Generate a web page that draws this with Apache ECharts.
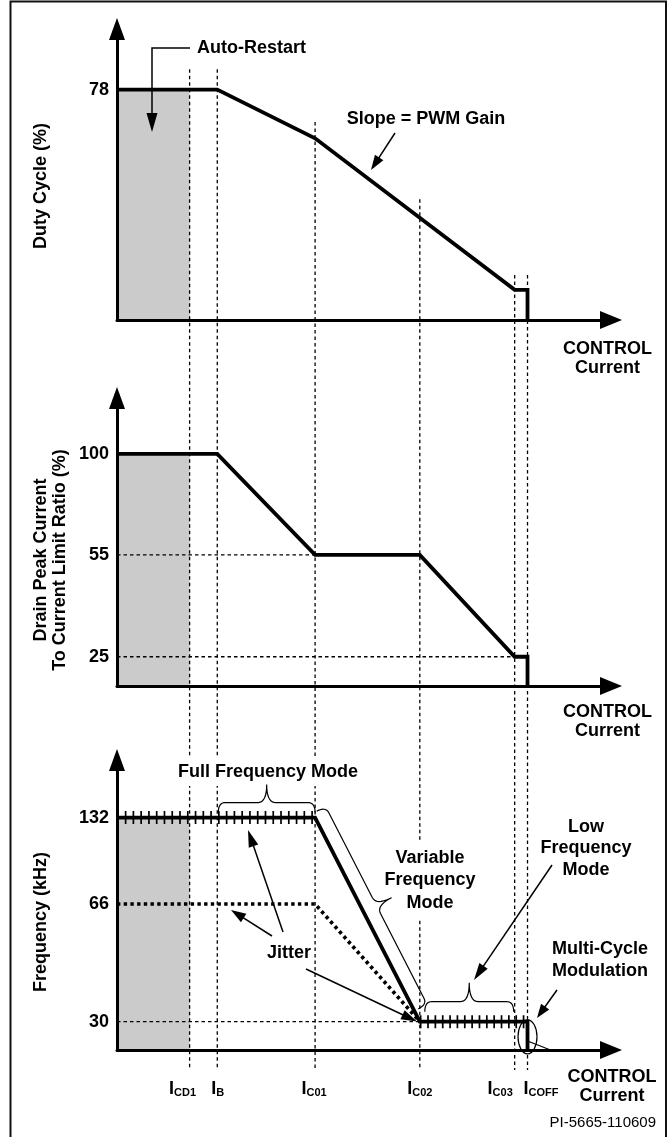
<!DOCTYPE html>
<html><head><meta charset="utf-8">
<script src="https://cdn.jsdelivr.net/npm/echarts@6/dist/echarts.min.js"></script>
<style>html,body{margin:0;padding:0;background:#fff}#c{width:669px;height:1137px}</style>
</head><body><div id="c"></div>
<script>
// ---------------- data ----------------
// CONTROL current breakpoints (schematic x axis, 0..100)
const currentNames = ['CD1', 'B', 'C01', 'C02', 'C03', 'COFF'];
const currentPos = [14.7, 20.3, 40.1, 61.3, 80.5, 83.1];
const [ICD1, IB, IC01, IC02, IC03, ICOFF] = currentPos;

// Duty cycle (%)
const dutyTicks = [78];
const dutyX = [0, IB, IC01, IC03, ICOFF, ICOFF];
const dutyY = [78, 78, 61.5, 10.2, 10.2, 0];

// Drain peak current to current limit ratio (%)
const drainTicks = [25, 55, 100];
const drainX = [0, IB, IC01, IC02, IC03, ICOFF, ICOFF];
const drainY = [100, 100, 55, 55, 25, 25, 0];

// Frequency (kHz)
const freqTicks = [30, 66, 132];
const freqX = [0, IC01, IC02, ICOFF, ICOFF];
const freqY = [132, 132, 30, 30, 0];
const jitterX = [0, IC01, IC02];
const jitterY = [66, 66, 30];

// where each vertical guide starts (duty-cycle units of the top panel)
const guideTop = [84.9, 84.9, 67, 40.9, 15.2, 15.2];

// schematic (not-to-scale) value axes: nominal value -> drawn axis position
const dutyScale = [[0, 78], [0, 78]];
const drainScale = [[0, 25, 55, 100], [0, 12.6, 56.5, 100]];
const freqScale = [[0, 30, 66, 132], [0, 16.1, 82.9, 132]];

// ---------------- helpers ----------------
function warp(v, m) {
  const a = m[0], b = m[1];
  for (let i = 1; i < a.length; i++) {
    if (v <= a[i]) { const t = (v - a[i - 1]) / (a[i] - a[i - 1]); return b[i - 1] + t * (b[i] - b[i - 1]); }
  }
  return b[b.length - 1] + (v - a[a.length - 1]) * (b[b.length - 1] - b[b.length - 2]) / (a[a.length - 1] - a[a.length - 2]);
}
const scales = [dutyScale, drainScale, freqScale];
const ticks = [dutyTicks, drainTicks, freqTicks];
const pts = (gi, xs, ys) => xs.map((x, i) => [x, warp(ys[i], scales[gi])]);

const FAM = '"Liberation Sans", Arial, Helvetica, sans-serif';
const BOLD18 = 'bold 18px ' + FAM;

const grids = [
  { left: 117, width: 494, top: 29, height: 291 },
  { left: 117, width: 494, top: 398, height: 288 },
  { left: 117, width: 494, top: 760, height: 290 }
];
const yMax = [98.5, 124.1, 164.7];

const xAxes = grids.map((g, i) => ({
  type: 'value', gridIndex: i, min: 0, max: 100, z: 10,
  axisLine: { show: true, onZero: false, symbol: ['none', 'triangle'], symbolSize: [18, 22], lineStyle: { color: '#000', width: 3 } },
  axisTick: { show: false }, axisLabel: { show: false }, splitLine: { show: false }
}));
const yAxes = grids.map((g, i) => {
  const pos = ticks[i].map(v => warp(v, scales[i]));
  return {
    type: 'value', gridIndex: i, min: 0, max: yMax[i], z: 10,
    axisLine: { show: true, onZero: false, symbol: ['none', 'triangle'], symbolSize: [16, 22], lineStyle: { color: '#000', width: 3 } },
    axisTick: { show: false }, splitLine: { show: false },
    axisLabel: {
      show: true, customValues: pos, margin: 8, color: '#000', fontSize: 18, fontWeight: 'bold', fontFamily: FAM,
      formatter: (val) => { let k = 0, best = 1e9; pos.forEach((p, j) => { if (Math.abs(p - val) < best) { best = Math.abs(p - val); k = j; } }); return String(ticks[i][k]); }
    }
  };
});

function line(gi, data, style, z, extra) {
  return Object.assign({
    type: 'line', xAxisIndex: gi, yAxisIndex: gi, data, symbol: 'none', silent: true,
    animation: false, clip: false, z: z,
    lineStyle: Object.assign({ color: '#000', width: 3.8, cap: 'butt', join: 'miter' }, style)
  }, extra || {});
}
const GRAY = '#cbcbcb';
function grayArea(gi, top) {
  return line(gi, [[0, warp(top, scales[gi])], [ICD1, warp(top, scales[gi])]], { width: 0 }, 1,
    { areaStyle: { color: GRAY, opacity: 1 } });
}
const DASH = { width: 1.3, type: [3.5, 3] };

const series = [
  // top panel
  grayArea(0, 78),
  line(0, pts(0, dutyX, dutyY), {}, 4),
  // middle panel
  grayArea(1, 100),
  line(1, pts(1, [0, IC01], [55, 55]), DASH, 3),
  line(1, pts(1, [0, IC03], [25, 25]), DASH, 3),
  line(1, pts(1, drainX, drainY), {}, 4),
  // bottom panel
  grayArea(2, 132),
  line(2, pts(2, [0, IC02], [30, 30]), DASH, 3),
  line(2, pts(2, jitterX, jitterY), { width: 3.6, type: [3.4, 3.3] }, 4),
  line(2, pts(2, [0, IC01], [132, 132]), { width: 13, type: [1.7, 6.07] }, 4),
  line(2, pts(2, [IC02, ICOFF], [30, 30]), { width: 13, type: [1.7, 5.65] }, 4),
  line(2, pts(2, freqX, freqY), {}, 5)
];

const chart = echarts.init(document.getElementById('c'), null, { renderer: 'canvas' });
chart.setOption({
  animation: false, backgroundColor: '#fff',
  grid: grids.map(g => Object.assign({ show: false }, g)),
  xAxis: xAxes, yAxis: yAxes, series
});

const P = (gi, x, v) => chart.convertToPixel({ gridIndex: gi }, [x, warp(v, scales[gi])]);

// ---------------- annotations ----------------
const G = [];
// frame
G.push({ type: 'rect', z: 0, silent: true, shape: { x: 10.5, y: 1.5, width: 655.5, height: 1150 }, style: { fill: 'none', stroke: '#111', lineWidth: 2 } });
// vertical guides through all panels
currentPos.forEach((x, i) => {
  const a = P(0, x, guideTop[i]);
  const b = P(2, x, 0);
  G.push({ type: 'line', z: 3, silent: true, shape: { x1: a[0], y1: a[1], x2: b[0], y2: b[1] + 20 }, style: { stroke: '#000', lineWidth: 1.3, lineDash: [3.5, 3] } });
});

function txt(x, y, text, o) {
  o = o || {};
  const st = {
    text, x: 0, y: 0, fill: '#000', font: o.font || BOLD18,
    align: o.align || 'center', textAlign: o.align || 'center', verticalAlign: 'middle', textVerticalAlign: 'middle',
    lineHeight: o.lh || 22
  };
  if (o.bg) { st.backgroundColor = o.bg; st.padding = o.pad || [2, 3]; }
  if (o.rich) st.rich = o.rich;
  return { type: 'text', x, y, rotation: o.rot || 0, z: o.z || 5, silent: true, style: st };
}
function arrow(ptsArr, head, hw, lw) {
  head = head || 16; hw = hw || 10; lw = lw || 1.5;
  const n = ptsArr.length, tip = ptsArr[n - 1], prev = ptsArr[n - 2];
  const dx = tip[0] - prev[0], dy = tip[1] - prev[1], L = Math.hypot(dx, dy), ux = dx / L, uy = dy / L;
  const base = [tip[0] - ux * head, tip[1] - uy * head];
  const ln = ptsArr.slice(0, n - 1).concat([[tip[0] - ux * head * 0.7, tip[1] - uy * head * 0.7]]);
  return [
    { type: 'polyline', z: 6, silent: true, shape: { points: ln }, style: { stroke: '#000', lineWidth: lw, fill: null } },
    { type: 'polygon', z: 6, silent: true, shape: { points: [tip, [base[0] - uy * hw / 2, base[1] + ux * hw / 2], [base[0] + uy * hw / 2, base[1] - ux * hw / 2]] }, style: { fill: '#000' } }
  ];
}
function brace(p1, p2, startIn, endIn, off, b, h) {
  let dx = p2[0] - p1[0], dy = p2[1] - p1[1], L0 = Math.hypot(dx, dy);
  const u = [dx / L0, dy / L0], nrm = [u[1], -u[0]];
  const o = [p1[0] + u[0] * startIn, p1[1] + u[1] * startIn];
  const L = L0 - startIn - endIn, r = 7, q = 9;
  const toP = (t, s) => [o[0] + t * u[0] + (s + off) * nrm[0], o[1] + t * u[1] + (s + off) * nrm[1]];
  const segs = [
    [[0, 0], [0, b], [r, b]],
    [[r, b], null, [L / 2 - q, b]],
    [[L / 2 - q, b], [L / 2, b], [L / 2, h]],
    [[L / 2, h], [L / 2, b], [L / 2 + q, b]],
    [[L / 2 + q, b], null, [L - r, b]],
    [[L - r, b], [L, b], [L, 0]]
  ];
  const out = [];
  segs.forEach(sg => {
    const N = sg[1] ? 10 : 1;
    for (let k = 0; k <= N; k++) {
      const t = k / N;
      let x, y;
      if (sg[1]) {
        x = (1 - t) * (1 - t) * sg[0][0] + 2 * t * (1 - t) * sg[1][0] + t * t * sg[2][0];
        y = (1 - t) * (1 - t) * sg[0][1] + 2 * t * (1 - t) * sg[1][1] + t * t * sg[2][1];
      } else { x = sg[0][0] + t * (sg[2][0] - sg[0][0]); y = sg[0][1] + t * (sg[2][1] - sg[0][1]); }
      out.push(toP(x, y));
    }
  });
  return { type: 'polyline', z: 6, silent: true, shape: { points: out }, style: { stroke: '#000', lineWidth: 1.2, fill: null } };
}

// top panel
G.push(txt(197, 48, 'Auto-Restart', { align: 'left' }));
G.push(...arrow([[190, 48], [152, 48], [152, 132]], 19, 11));
G.push(txt(426, 119, 'Slope = PWM Gain'));
G.push(...arrow([[395, 133], [371, 170]], 15, 10));
G.push(txt(41, 186, 'Duty Cycle (%)', { rot: Math.PI / 2 }));
G.push(txt(607.5, 359, 'CONTROL\nCurrent', { lh: 19 }));

// middle panel
G.push(txt(50.5, 560, 'Drain Peak Current\nTo Current Limit Ratio (%)', { rot: Math.PI / 2, lh: 19 }));
G.push(txt(607.5, 722, 'CONTROL\nCurrent', { lh: 19 }));

// bottom panel
G.push(txt(41.5, 922, 'Frequency (kHz)', { rot: Math.PI / 2 }));
G.push(txt(612, 1087, 'CONTROL\nCurrent', { lh: 19 }));
G.push(txt(268, 772, 'Full Frequency Mode', { bg: '#fff', pad: [3, 3] }));
G.push(txt(430, 880.5, 'Variable\nFrequency\nMode', { bg: '#fff', pad: [5, 3], lh: 22.5 }));
G.push(txt(586, 848.5, 'Low\nFrequency\nMode', { lh: 21.7 }));
G.push(txt(600, 960, 'Multi-Cycle\nModulation', { lh: 21.7 }));
G.push(txt(289, 953, 'Jitter'));
G.push(txt(656, 1123, 'PI-5665-110609', { align: 'right', font: '15px ' + FAM }));

G.push(...arrow([[283, 932], [248, 830]], 17, 10));
G.push(...arrow([[272, 936], [231, 910]], 15, 10));
G.push(...arrow([[306, 969], [417, 1021.5]], 16, 10));
G.push(...arrow([[552, 865], [474, 980]], 17, 10));
G.push(...arrow([[557, 990], [537, 1018]], 14, 10));

// braces anchored on the frequency curve
G.push(brace(P(2, IB, 132), P(2, IC01, 132), 1, 0, 5, 10, 28));
G.push(brace(P(2, IC02, 30), P(2, IC03, 30), 5, 1, 10, 10, 29));
G.push(brace(P(2, IC01, 132), P(2, IC02, 30), -5, 12, 4.4, 10, 27));

// multi-cycle ellipse
const e = P(2, ICOFF, 30), e0 = P(2, ICOFF, 0);
G.push({ type: 'ellipse', z: 6, silent: true, shape: { cx: e[0], cy: (e[1] + e0[1]) / 2 + 1, rx: 9.5, ry: 17 }, style: { fill: 'none', stroke: '#000', lineWidth: 1.2 } });
G.push({ type: 'line', z: 6, silent: true, shape: { x1: e[0], y1: e0[1] - 9, x2: e[0] + 23, y2: e0[1] }, style: { stroke: '#000', lineWidth: 1.2 } });

// current labels under bottom axis
const labelDx = [-7, 0.5, -1, 0, -14.5, 13.5];
currentPos.forEach((x, i) => {
  const p = P(2, x, 0);
  G.push(txt(p[0] + labelDx[i], 1087, '{i|I}{s|' + currentNames[i] + '}', {
    rich: {
      i: { font: 'bold 18px ' + FAM, lineHeight: 22, verticalAlign: 'bottom' },
      s: { font: 'bold 11px ' + FAM, lineHeight: 14, verticalAlign: 'bottom' }
    }
  }));
});

chart.setOption({ graphic: G });
</script>
</body></html>
